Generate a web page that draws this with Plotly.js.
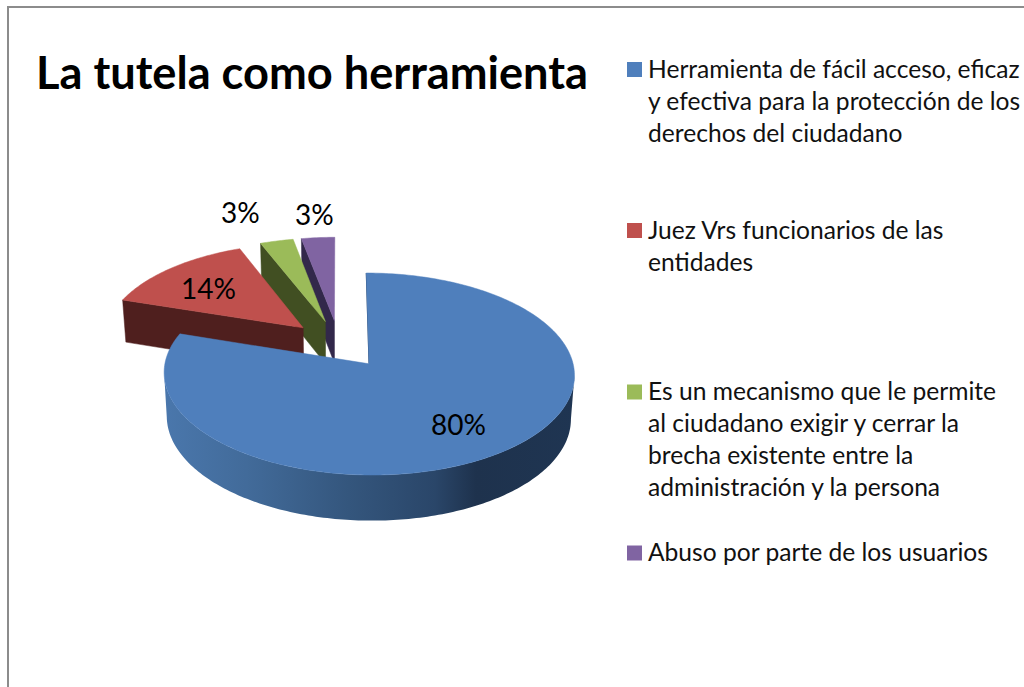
<!DOCTYPE html>
<html>
<head>
<meta charset="utf-8">
<script src="https://cdn.plot.ly/plotly-3.0.1.min.js"></script>
<style>html,body{margin:0;padding:0;background:#fff}#c{width:1024px;height:687px}</style>
</head>
<body>
<div id="c"></div>
<script>
// ---- data ----
const chartTitle = 'La tutela como herramienta';
const categories = [
  'Herramienta de fácil acceso, eficaz<br>y efectiva para la protección de los<br>derechos del ciudadano',
  'Juez Vrs funcionarios de las<br>entidades',
  'Es un mecanismo que le permite<br>al ciudadano exigir y cerrar la<br>brecha existente entre la<br>administración y la persona',
  'Abuso por parte de los usuarios'
];
const percentages = [80, 14, 3, 3];

// ---- styles ----
const topColors  = ['#4f7fbc', '#bf504d', '#9bbb59', '#8064a2'];
const wallColors = ['#2f4d70', '#4f1f1e', '#414f22', '#32284a'];
const FONT = 'Lato, Carlito, Calibri, sans-serif';

// ---- 3D pie projection (unit circle on a tilted plane -> screen pixels) ----
const cx = 339, cy = 344, A = 200, B = 96, K = 0.099, EXPLODE = 0.25;
const rad = d => d * Math.PI / 180;
function project(X, Y) {
  const s = 1 / (1 + K * Y);
  return [cx + A * X * s, cy - B * Y * s];
}
function lower(p) {            // same point on the bottom plane of the disc
  return [cx + (p[0] - cx) * 0.985, p[1] + 43 + 0.02 * (p[1] - cy)];
}
const total = percentages.reduce((a, b) => a + b, 0);
let acc = 0;
const slices = percentages.map(v => {
  const start = acc * 360 / total; acc += v;
  return {start, end: acc * 360 / total};
});
function rim(sl, deg) {
  const mid = rad((sl.start + sl.end) / 2), t = rad(deg);
  return project(Math.sin(t) + EXPLODE * Math.sin(mid), Math.cos(t) + EXPLODE * Math.cos(mid));
}
function apex(sl) {
  const mid = rad((sl.start + sl.end) / 2);
  return project(EXPLODE * Math.sin(mid), EXPLODE * Math.cos(mid));
}
function polyTrace(pts, color, extra) {
  return Object.assign({
    type: 'scatter', mode: 'lines', x: pts.map(p => p[0]), y: pts.map(p => p[1]),
    fill: 'toself', fillcolor: color, line: {color: color, width: 0.5, simplify: false},
    hoverinfo: 'skip', showlegend: false
  }, extra || {});
}
function topFace(sl, color) {
  const pts = [apex(sl)];
  for (let d = sl.start; d < sl.end; d += 1) pts.push(rim(sl, d));
  pts.push(rim(sl, sl.end), apex(sl));
  return polyTrace(pts, color);
}
function radialWall(sl, color) {
  const a = apex(sl), r = rim(sl, sl.start);
  return polyTrace([a, r, lower(r), lower(a), a], color);
}
function outerWall(sl) {
  // runs only between the silhouette's rightmost and leftmost rim points
  let dR = sl.start, dL = sl.start;
  for (let d = sl.start; d <= sl.end; d += 0.5) {
    if (rim(sl, d)[0] > rim(sl, dR)[0]) dR = d;
    if (rim(sl, d)[0] < rim(sl, dL)[0]) dL = d;
  }
  const up = [], down = [];
  for (let d = dR; d <= dL; d += 1) { const p = rim(sl, d); up.push(p); down.unshift(lower(p)); }
  const pts = up.concat(down); pts.push(up[0]);
  return polyTrace(pts, wallColors[0], {
    fillgradient: {type: 'horizontal', colorscale: [
      [0, '#4a77ac'], [0.2, '#426b9a'], [0.45, '#34567d'], [0.66, '#2a4669'],
      [0.76, '#1e324d'], [1, '#1f3552']
    ]},
    line: {width: 0, simplify: false}
  });
}

const traces = [];
for (let i = slices.length - 1; i >= 1; i--) {
  traces.push(radialWall(slices[i], wallColors[i]));
  traces.push(topFace(slices[i], topColors[i]));
}
traces.push(outerWall(slices[0]));
traces.push(polyTrace([apex(slices[0]), rim(slices[0], 0)], '#2b4668', {fill: 'none', line: {color: '#2b4668', width: 1}}));
traces.push(topFace(slices[0], topColors[0]));

// legend swatches
const legendX = 634.5, legendY = [69.5, 230.5, 392, 553];
traces.push({
  type: 'scatter', mode: 'markers', x: legendY.map(() => legendX), y: legendY,
  marker: {symbol: 'square', size: 15, color: topColors, line: {width: 0}},
  hoverinfo: 'skip', showlegend: false
});

const labelPos = [[458, 424], [208, 288], [240, 212], [314, 214]];
const annotations = percentages.map((v, i) => ({
  x: labelPos[i][0], y: labelPos[i][1], xref: 'x', yref: 'y', text: v + '%', showarrow: false,
  xanchor: 'center', yanchor: 'middle', font: {family: FONT, size: 28, color: '#000'}
}));
annotations.push({
  x: 34, y: 71, xref: 'x', yref: 'y', text: '<b>' + chartTitle + '</b>', showarrow: false,
  xanchor: 'left', yanchor: 'middle', font: {family: FONT, size: 45.2, color: '#000'}
});
categories.forEach((c, i) => annotations.push({
  x: 646, y: legendY[i] - 18, xref: 'x', yref: 'y', text: c, showarrow: false, align: 'left',
  xanchor: 'left', yanchor: 'top', font: {family: FONT, size: 24.6, color: '#111'}
}));

const axis = {visible: false, fixedrange: true, showgrid: false, zeroline: false};
Plotly.newPlot('c', traces, {
  width: 1024, height: 687, margin: {l: 0, r: 0, t: 0, b: 0},
  paper_bgcolor: '#fff', plot_bgcolor: '#fff', showlegend: false,
  xaxis: Object.assign({range: [0, 1024]}, axis),
  yaxis: Object.assign({range: [687, 0]}, axis),
  annotations,
  shapes: [{type: 'path', xref: 'x', yref: 'y', path: 'M 8 687 L 8 7 L 1024 7',
            line: {color: '#8c8c8c', width: 2}}]
}, {displayModeBar: false, staticPlot: true});
</script>
</body>
</html>
